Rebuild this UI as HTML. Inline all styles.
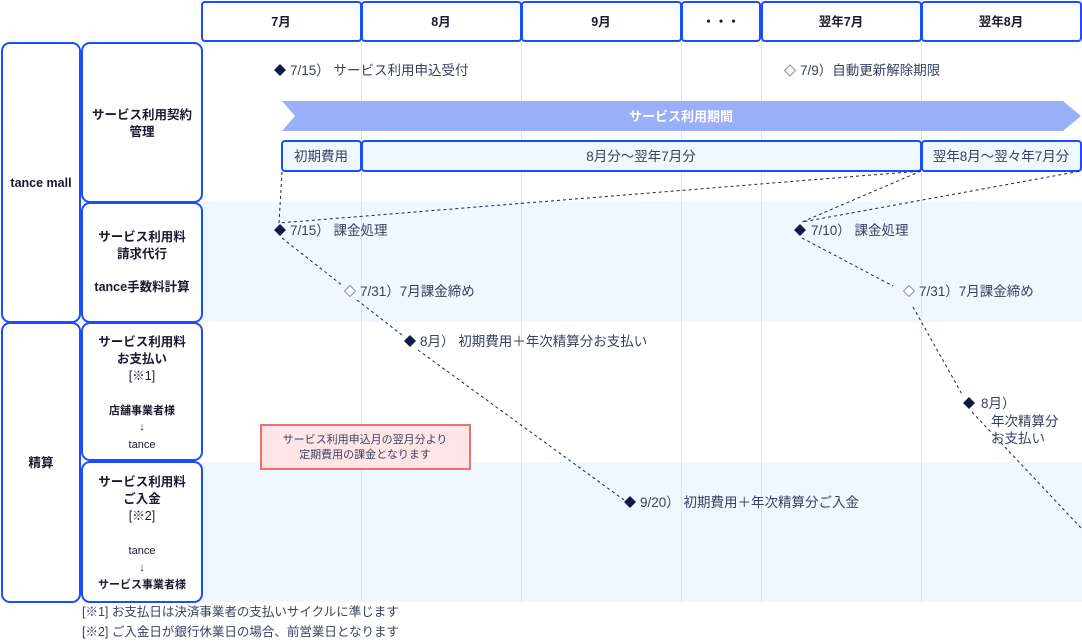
<!DOCTYPE html>
<html><head><meta charset="utf-8"><style>
html,body{margin:0;padding:0;background:#fff;}
svg{display:block;}
text{font-family:"Liberation Sans","Noto Sans CJK JP",sans-serif;}
.b{font-weight:bold;fill:#1a1a2e;font-size:12.5px;}
.t{fill:#3a4160;font-size:13.5px;}
.d{stroke:#1c2550;stroke-width:1;stroke-dasharray:3,3;fill:none;}
</style></head><body>
<svg width="1082" height="642" viewBox="0 0 1082 642" xmlns="http://www.w3.org/2000/svg">
<rect x="202" y="202" width="880" height="120" fill="#eff7ff"/>
<rect x="202" y="462" width="880" height="140" fill="#eff7ff"/>
<g stroke="#dde3ea" stroke-width="1">
<line x1="361.5" y1="41" x2="361.5" y2="602"/><line x1="521.5" y1="41" x2="521.5" y2="602"/>
<line x1="681.5" y1="41" x2="681.5" y2="602"/><line x1="761.5" y1="41" x2="761.5" y2="602"/>
<line x1="921.5" y1="41" x2="921.5" y2="602"/>
</g>
<g fill="#fff" stroke="#1a4dff" stroke-width="2">
<rect x="202" y="2" width="159" height="39" rx="3"/><rect x="362" y="2" width="159" height="39" rx="3"/>
<rect x="522" y="2" width="159" height="39" rx="3"/><rect x="682" y="2" width="78" height="39" rx="3"/>
<rect x="762" y="2" width="159" height="39" rx="3"/><rect x="922" y="2" width="159" height="39" rx="3"/>
<rect x="2" y="43" width="78" height="279" rx="8"/><rect x="2" y="323" width="78" height="279" rx="8"/>
<rect x="82" y="43" width="120" height="159" rx="8"/><rect x="82" y="203" width="120" height="119" rx="8"/>
<rect x="82" y="323" width="120" height="137" rx="8"/><rect x="82" y="462" width="120" height="140" rx="8"/>
</g>
<g class="b" text-anchor="middle">
<text x="281" y="26">7月</text><text x="441" y="26">8月</text><text x="601" y="26">9月</text>
<text x="721" y="26">・・・</text><text x="841" y="26">翌年7月</text><text x="1001" y="26">翌年8月</text>
<text x="41" y="187">tance mall</text><text x="41" y="467">精算</text>
<text x="142" y="119">サービス利用契約</text><text x="142" y="136">管理</text>
<text x="142" y="241">サービス利用料</text><text x="142" y="258">請求代行</text><text x="142" y="291">tance手数料計算</text>
<text x="142" y="346">サービス利用料</text><text x="142" y="363">お支払い</text>
<text x="142" y="380" font-weight="normal">[※1]</text>
<text x="142" y="414" font-size="11">店舗事業者様</text><text x="142" y="430" font-weight="normal" font-size="11">↓</text>
<text x="142" y="448" font-weight="normal" font-size="11">tance</text>
<text x="142" y="486">サービス利用料</text><text x="142" y="503">ご入金</text>
<text x="142" y="520" font-weight="normal">[※2]</text>
<text x="142" y="554" font-weight="normal" font-size="11">tance</text><text x="142" y="571" font-weight="normal" font-size="11">↓</text>
<text x="142" y="588" font-size="11">サービス事業者様</text>
</g>
<polygon points="282,101 1063,101 1081,116 1063,131 282,131 295,116" fill="#99aff7"/>
<text x="681" y="121" text-anchor="middle" fill="#fff" font-size="13" font-weight="bold">サービス利用期間</text>
<g fill="#eff7ff" stroke="#1a4dff" stroke-width="2">
<rect x="282" y="141" width="79" height="30" rx="3"/><rect x="362" y="141" width="559" height="30" rx="3"/>
<rect x="922" y="141" width="159" height="30" rx="3"/>
</g>
<g class="t" text-anchor="middle">
<text x="321" y="161">初期費用</text><text x="641" y="161">8月分～翌年7月分</text><text x="1001" y="161">翌年8月～翌々年7月分</text>
</g>
<g class="d">
<path d="M282,172 L279,223 L921,171"/>
<path d="M921,171 L802,222 L1081,171"/>
<path d="M282,238 L343,286"/><path d="M357,300 L402,335"/><path d="M418,350 L624,500"/>
<path d="M802,238 L893,286"/><path d="M913,307 L963,396"/><path d="M972,412 L1081,528"/>
</g>
<g fill="#111a4a">
<polygon points="280,64 286,70 280,76 274,70"/>
<polygon points="280,224 286,230 280,236 274,230"/>
<polygon points="800,224 806,230 800,236 794,230"/>
<polygon points="410,335 416,341 410,347 404,341"/>
<polygon points="630,496 636,502 630,508 624,502"/>
<polygon points="969,397 975,403 969,409 963,403"/>
</g>
<g fill="#fff" stroke="#8a90a8">
<polygon points="790,65 795.5,70.5 790,76 784.5,70.5"/>
<polygon points="350,285.5 355.5,291 350,296.5 344.5,291"/>
<polygon points="909,285.5 914.5,291 909,296.5 903.5,291"/>
</g>
<g class="t">
<text x="290" y="75">7/15）  サービス利用申込受付</text>
<text x="800" y="75">7/9）自動更新解除期限</text>
<text x="290" y="235">7/15）  課金処理</text>
<text x="811" y="235">7/10）  課金処理</text>
<text x="360" y="296">7/31）7月課金締め</text>
<text x="919" y="296">7/31）7月課金締め</text>
<text x="420" y="346">8月）  初期費用＋年次精算分お支払い</text>
<text x="640" y="507">9/20）  初期費用＋年次精算分ご入金</text>
<text x="981" y="408">8月）</text><text x="991" y="426">年次精算分</text><text x="991" y="443">お支払い</text>
</g>
<rect x="261" y="425" width="209" height="44" fill="#ffe5e5" stroke="#f07070" stroke-width="2"/>
<g fill="#3a4160" font-size="11" text-anchor="middle">
<text x="365" y="443">サービス利用申込月の翌月分より</text><text x="365" y="458">定期費用の課金となります</text>
</g>
<g fill="#3a4160" font-size="12.5">
<text x="82" y="616">[※1] お支払日は決済事業者の支払いサイクルに準じます</text>
<text x="82" y="636">[※2] ご入金日が銀行休業日の場合、前営業日となります</text>
</g>
</svg>
</body></html>
